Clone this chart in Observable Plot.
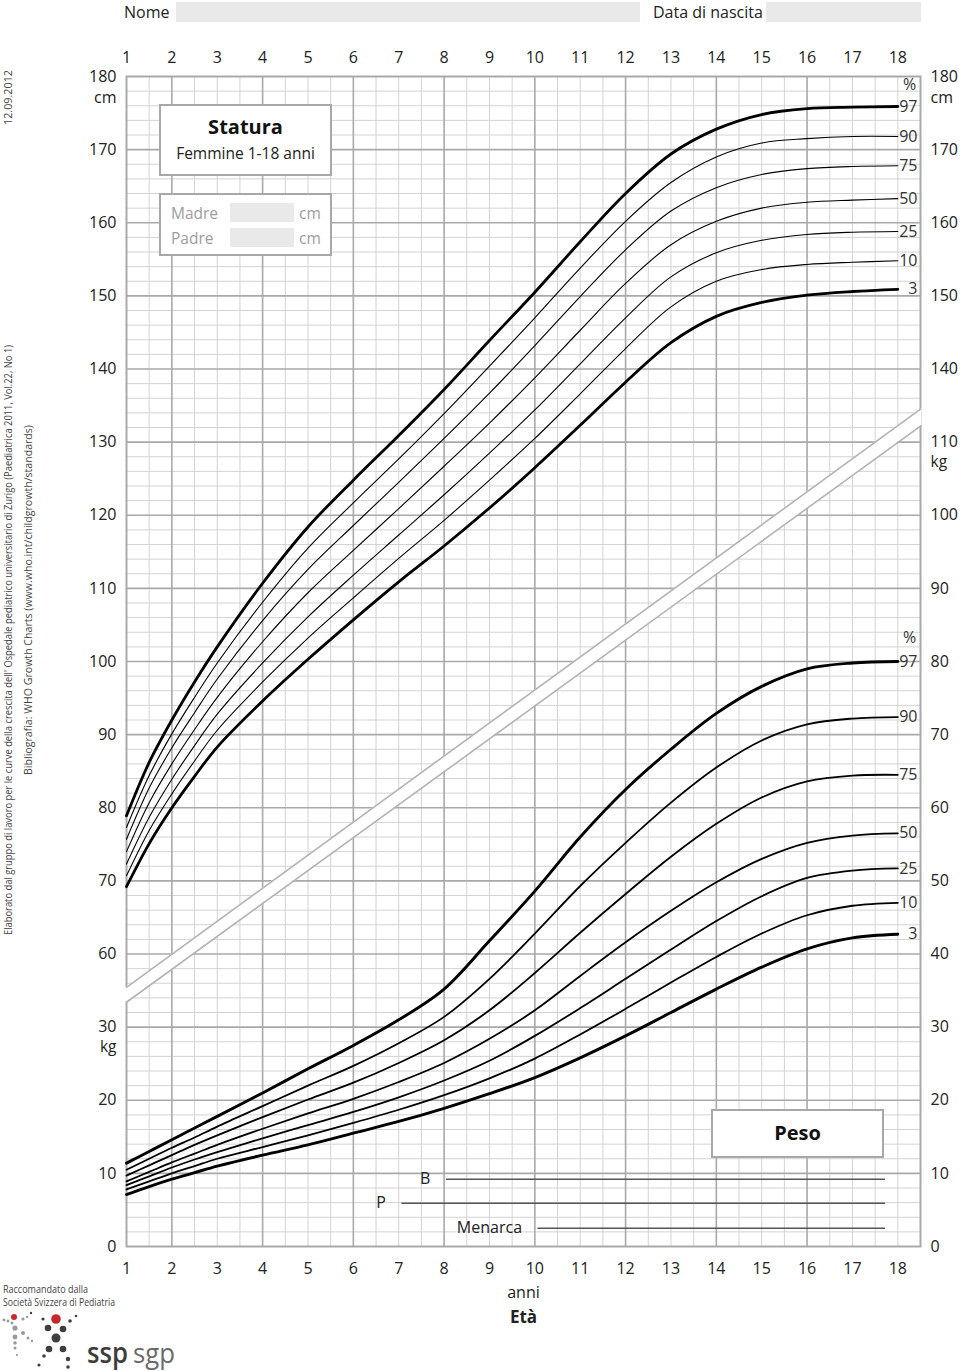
<!DOCTYPE html>
<html><head><meta charset="utf-8">
<script src="https://cdn.jsdelivr.net/npm/d3@7"></script>
<script src="https://cdn.jsdelivr.net/npm/@observablehq/plot@0.6"></script>
<style>
body{margin:0;background:#fff;font-family:"Open Sans",sans-serif;color:#222}
#page{position:relative;width:960px;height:1371px;overflow:hidden;background:#fff}
.abs{position:absolute}
.fld{position:absolute;background:#e9e9e9}
.box{position:absolute;background:#fff;border:2px solid #a8a8a8;box-sizing:border-box}
.t{position:absolute;white-space:nowrap;line-height:1}
</style></head><body><div id="page">
<div id="chart" class="abs" style="left:0;top:0"></div>

<div class="t" style="left:124px;top:4px;font-size:16px;color:#222">Nome</div>
<div class="fld" style="left:176px;top:2px;width:464px;height:20px"></div>
<div class="t" style="left:653px;top:4px;font-size:16px;color:#222">Data di nascita</div>
<div class="fld" style="left:766px;top:2px;width:155px;height:20px"></div>

<div class="box" style="left:159px;top:104px;width:173px;height:72px"></div>
<div class="t" style="left:159px;width:173px;text-align:center;top:117px;font-size:20px;font-weight:700;color:#111">Statura</div>
<div class="t" style="left:159px;width:173px;text-align:center;top:146px;font-size:15.5px;color:#222">Femmine 1-18 anni</div>

<div class="box" style="left:159px;top:193px;width:173px;height:63px"></div>
<div class="t" style="left:171px;top:206px;font-size:15.5px;color:#9d9d9d">Madre</div>
<div class="fld" style="left:230px;top:203px;width:64px;height:19px"></div>
<div class="t" style="left:299px;top:206px;font-size:15.5px;color:#9d9d9d">cm</div>
<div class="t" style="left:171px;top:231px;font-size:15.5px;color:#9d9d9d">Padre</div>
<div class="fld" style="left:230px;top:228px;width:64px;height:19px"></div>
<div class="t" style="left:299px;top:231px;font-size:15.5px;color:#9d9d9d">cm</div>

<div class="box" style="left:711px;top:1109px;width:173px;height:49px"></div>
<div class="t" style="left:711px;width:173px;text-align:center;top:1123px;font-size:20px;font-weight:700;color:#111">Peso</div>

<svg class="abs" style="left:0;top:0" width="960" height="1371">
  <g font-family="Open Sans, sans-serif" fill="#444">
    <text transform="translate(12,125) rotate(-90)" font-size="10" textLength="55" lengthAdjust="spacingAndGlyphs">12.09.2012</text>
    <text transform="translate(12,935) rotate(-90)" font-size="10.5" textLength="590" lengthAdjust="spacingAndGlyphs">Elaborato dal gruppo di lavoro per le curve della crescita dell' Ospedale pediatrico universitario di Zurigo (Paediatrica 2011, Vol.22, No 1)</text>
    <text transform="translate(32,775) rotate(-90)" font-size="10.5" textLength="350" lengthAdjust="spacingAndGlyphs">Bibliografia: WHO Growth Charts (www.who.int/childgrowth/standards)</text>
    <text x="3" y="1293" font-size="11" textLength="85" lengthAdjust="spacingAndGlyphs">Raccomandato dalla</text>
    <text x="3" y="1306" font-size="11" textLength="112" lengthAdjust="spacingAndGlyphs">Società Svizzera di Pediatria</text>
  </g>
  <g>
    <circle cx="14" cy="1317" r="3" fill="#c8282d"/>
    <circle cx="56" cy="1319" r="4.8" fill="#c8282d"/>
    <circle cx="48" cy="1328" r="3.3" fill="#3f3f3f"/>
    <circle cx="63" cy="1329" r="3.3" fill="#3f3f3f"/>
    <circle cx="56" cy="1338" r="4.5" fill="#3f3f3f"/>
    <circle cx="49" cy="1349" r="3.3" fill="#3f3f3f"/>
    <circle cx="63" cy="1349" r="3.3" fill="#3f3f3f"/>
    <circle cx="44" cy="1356" r="1.8" fill="#3f3f3f"/>
    <circle cx="68" cy="1359" r="2.2" fill="#3f3f3f"/>
    <circle cx="39" cy="1365" r="1.6" fill="#3f3f3f"/>
    <circle cx="68" cy="1367" r="1.8" fill="#3f3f3f"/>
    <circle cx="70" cy="1321" r="1.8" fill="#3f3f3f"/>
    <circle cx="76" cy="1316" r="1.3" fill="#3f3f3f"/>
    <circle cx="43" cy="1319" r="1.6" fill="#3f3f3f"/>
    <circle cx="31" cy="1313" r="1.2" fill="#3f3f3f"/>
    <circle cx="15" cy="1328" r="2.6" fill="#9a9a9a"/>
    <circle cx="15" cy="1337" r="2.4" fill="#9a9a9a"/>
    <circle cx="23" cy="1333" r="2" fill="#9a9a9a"/>
    <circle cx="15" cy="1343" r="1.8" fill="#9a9a9a"/>
    <circle cx="15" cy="1348" r="1.5" fill="#9a9a9a"/>
    <circle cx="28" cy="1338" r="1.5" fill="#9a9a9a"/>
    <circle cx="32" cy="1341" r="1.2" fill="#9a9a9a"/>
    <circle cx="4" cy="1320" r="1.4" fill="#9a9a9a"/>
    <circle cx="8" cy="1321" r="1.4" fill="#9a9a9a"/>
    <circle cx="23" cy="1319" r="1.6" fill="#9a9a9a"/>
    <circle cx="27" cy="1317" r="1.2" fill="#9a9a9a"/>
    <circle cx="12" cy="1323" r="1.4" fill="#9a9a9a"/>
    <circle cx="17" cy="1355" r="1.1" fill="#9a9a9a"/>
    <text x="87" y="1363" font-family="Open Sans, sans-serif" font-size="28" font-weight="600" fill="#3d3d3d" textLength="41" lengthAdjust="spacingAndGlyphs">ssp</text>
    <text x="133" y="1363" font-family="Open Sans, sans-serif" font-size="28" fill="#6b6b6b" textLength="42" lengthAdjust="spacingAndGlyphs">sgp</text>
  </g>
</svg>
</div>
<script>
// ---- data ----
const ages = [1, 1.5, 2, 2.5, 3, 4, 5, 6, 7, 8, 9, 10, 11, 12, 13, 14, 15, 16, 17, 18];
const percentiles = ["3", "10", "25", "50", "75", "90", "97"];

// height (cm)
const heightP3  = [69.2, 75.1, 80.0, 84.3, 88.3, 94.6, 100.3, 105.7, 110.9, 115.8, 121.0, 126.5, 132.3, 138.2, 143.6, 147.2, 149.1, 150.1, 150.6, 150.9];
const heightP10 = [70.7, 76.9, 81.9, 86.4, 90.6, 97.2, 103.2, 108.7, 114.1, 119.3, 124.8, 130.5, 136.6, 142.8, 148.5, 152.0, 153.6, 154.3, 154.6, 154.8];
const heightP25 = [72.3, 78.7, 83.9, 88.5, 92.8, 99.8, 106.1, 111.8, 117.3, 122.8, 128.5, 134.4, 140.7, 147.0, 152.6, 155.9, 157.6, 158.4, 158.7, 158.8];
const heightP50 = [74.0, 80.7, 86.0, 90.7, 95.1, 102.7, 109.4, 115.2, 120.9, 126.7, 132.6, 138.8, 145.3, 151.7, 157.0, 160.2, 162.0, 162.8, 163.1, 163.3];
const heightP75 = [75.7, 82.7, 88.2, 93.0, 97.6, 105.6, 112.6, 118.6, 124.5, 130.5, 136.7, 143.2, 149.9, 156.3, 161.6, 164.8, 166.6, 167.4, 167.7, 167.8];
const heightP90 = [77.3, 84.4, 90.1, 95.1, 99.8, 108.1, 115.5, 121.7, 127.7, 133.9, 140.4, 147.0, 153.8, 160.2, 165.5, 169.0, 170.9, 171.5, 171.8, 171.8];
const heightP97 = [78.9, 86.2, 92.0, 97.2, 102.0, 110.7, 118.4, 124.8, 130.9, 137.2, 143.9, 150.5, 157.4, 164.0, 169.4, 172.8, 174.8, 175.6, 175.8, 175.9];

// weight (kg)
const weightP3  = [7.1, 8.2, 9.2, 10.1, 11.0, 12.5, 13.9, 15.5, 17.1, 18.9, 20.9, 23.1, 25.8, 28.8, 32.0, 35.2, 38.2, 40.7, 42.2, 42.7];
const weightP10 = [7.8, 8.9, 10.0, 11.0, 12.0, 13.6, 15.2, 16.9, 18.7, 20.7, 23.0, 25.7, 29.0, 32.5, 36.1, 39.6, 42.8, 45.3, 46.6, 47.0];
const weightP25 = [8.4, 9.6, 10.8, 11.9, 12.9, 14.8, 16.6, 18.4, 20.4, 22.7, 25.4, 28.8, 32.6, 36.6, 40.6, 44.5, 47.9, 50.4, 51.4, 51.7];
const weightP50 = [8.9, 10.2, 11.5, 12.7, 13.9, 16.1, 18.2, 20.2, 22.5, 25.1, 28.4, 32.3, 37.0, 41.6, 45.9, 49.8, 53.0, 55.2, 56.2, 56.5];
const weightP75 = [9.7, 11.1, 12.5, 13.9, 15.2, 17.7, 20.1, 22.4, 25.1, 28.2, 32.3, 37.4, 42.9, 48.2, 53.3, 57.8, 61.4, 63.6, 64.4, 64.5];
const weightP90 = [10.5, 12.0, 13.5, 14.9, 16.4, 19.2, 22.0, 24.7, 27.8, 31.4, 36.6, 42.8, 49.3, 55.2, 60.7, 65.5, 69.2, 71.4, 72.2, 72.4];
const weightP97 = [11.4, 13.0, 14.6, 16.2, 17.8, 21.0, 24.3, 27.5, 31.0, 35.2, 41.8, 48.6, 56.0, 62.5, 68.0, 72.9, 76.6, 79.0, 79.8, 80.0];

// axis ticks & labels
const ageTicks = [1, 2, 3, 4, 5, 6, 7, 8, 9, 10, 11, 12, 13, 14, 15, 16, 17, 18];
const yTicks = [180, 170, 160, 150, 140, 130, 120, 110, 100, 90, 80, 70, 60, 50, 40, 30, 20];
const leftLabels  = ["180", "170", "160", "150", "140", "130", "120", "110", "100", "90", "80", "70", "60", "30", "20", "10", "0"];
const rightLabels = ["180", "170", "160", "150", "140", "110", "100", "90", "80", "70", "60", "50", "40", "30", "20", "10", "0"];

// pubertal stage lines (kg level, ages)
const stageNames = ["B", "P", "Menarca"];
const stageFrom  = [8.05, 7.07, 10.07];
const stageTo    = [17.73, 17.73, 17.73];
const stageKg    = [9.2, 5.9, 2.5];

// axis break band (weight scale shares the axis, shifted by 20)
const weightShift = 20;
const breakAges = [1, 18.5];
const breakLow  = [53.4, 132.2];
const breakHigh = [55.45, 134.5];

// ---- build ----
const hSeries = [heightP3, heightP10, heightP25, heightP50, heightP75, heightP90, heightP97];
const wSeries = [weightP3, weightP10, weightP25, weightP50, weightP75, weightP90, weightP97];
const toLong = (series, shift) => series.flatMap((vals, k) => vals.map((v, i) => ({age: ages[i], p: percentiles[k], v: v + shift})));
const heightData = toLong(hSeries, 0);
const weightData = toLong(wSeries, weightShift);
const isOuter = d => d.p === "3" || d.p === "97";
const hEnd = hSeries.map((vals, k) => ({p: percentiles[k], v: vals[vals.length - 1]}));
const wEnd = wSeries.map((vals, k) => ({p: percentiles[k], v: vals[vals.length - 1] + weightShift}));

const lowAt = d3.scaleLinear(breakAges, breakLow);
const highAt = d3.scaleLinear(breakAges, breakHigh);
const bandEdge = breakAges.map(a => ({age: a, lo: lowAt(a), hi: highAt(a)}));
const bandFill = [0.97, 18.53].map(a => ({age: a, lo: lowAt(a), hi: highAt(a)}));

const halfYears = d3.range(1, 18.51, 0.5);
const majorX = [2, 4, 6, 8, 10, 12, 14, 16];
const minorX = halfYears.filter(a => !majorX.includes(a));
const allY = d3.range(20, 180.1, 2);
const majorY = d3.range(30, 171, 10);
const minorY = allY.filter(v => v % 10 !== 0);

const yTickData = yTicks.map((v, i) => ({v, left: leftLabels[i], right: rightLabels[i]}));
const stages = stageNames.map((n, i) => ({name: n, from: stageFrom[i], to: stageTo[i], y: stageKg[i] + weightShift}));

const minor = "#d3d3d3", major = "#a9a9a9", ink = "#222";
const curve = "catmull-rom";

const chart = Plot.plot({
  width: 960, height: 1371,
  marginLeft: 126, marginRight: 40, marginTop: 76, marginBottom: 125,
  x: {domain: [1, 18.5], axis: null},
  y: {domain: [20, 180], axis: null},
  style: {fontFamily: "Open Sans, sans-serif", fontSize: "16px", color: ink, background: "transparent", overflow: "visible"},
  marks: [
    Plot.ruleX(minorX, {stroke: minor, strokeWidth: 1}),
    Plot.ruleY(minorY, {stroke: minor, strokeWidth: 1}),
    Plot.ruleX(majorX, {stroke: major, strokeWidth: 1.6}),
    Plot.ruleY(majorY, {stroke: major, strokeWidth: 1.6}),
    Plot.frame({stroke: major, strokeWidth: 2}),
    Plot.areaY(bandFill, {x: "age", y1: "lo", y2: "hi", fill: "white"}),
    Plot.line(bandEdge, {x: "age", y: "lo", stroke: "#b3b3b3", strokeWidth: 1.6}),
    Plot.line(bandEdge, {x: "age", y: "hi", stroke: "#b3b3b3", strokeWidth: 1.6}),
    // height curves
    Plot.line(heightData.filter(d => !isOuter(d)), {x: "age", y: "v", z: "p", curve, stroke: "#000", strokeWidth: 1.1}),
    Plot.line(heightData.filter(isOuter), {x: "age", y: "v", z: "p", curve, stroke: "#000", strokeWidth: 2.8}),
    // weight curves
    Plot.line(weightData.filter(d => !isOuter(d)), {x: "age", y: "v", z: "p", curve, stroke: "#000", strokeWidth: 1.8}),
    Plot.line(weightData.filter(isOuter), {x: "age", y: "v", z: "p", curve, stroke: "#000", strokeWidth: 2.9}),
    // percentile labels
    Plot.text(hEnd, {x: () => 18.5, y: "v", text: "p", textAnchor: "end", dx: -3, fontSize: 16, fill: "#333"}),
    Plot.text(wEnd, {x: () => 18.5, y: "v", text: "p", textAnchor: "end", dx: -3, fontSize: 16, fill: "#333"}),
    Plot.text(["%"], {x: () => 18.5, y: () => hEnd[6].v + 2.9, dx: -11, fontSize: 16, fill: "#333"}),
    Plot.text(["%"], {x: () => 18.5, y: () => wEnd[6].v + 3.2, dx: -11, fontSize: 16, fill: "#333"}),
    // age ticks
    Plot.text(ageTicks, {x: d => d, frameAnchor: "top", lineAnchor: "middle", dy: -19, text: d => String(d), fontSize: 16}),
    Plot.text(ageTicks, {x: d => d, frameAnchor: "bottom", lineAnchor: "middle", dy: 22, text: d => String(d), fontSize: 16}),
    // y ticks
    Plot.text(yTickData, {y: "v", frameAnchor: "left", lineAnchor: "middle", dx: -10, textAnchor: "end", text: "left", fontSize: 16}),
    Plot.text(yTickData, {y: "v", frameAnchor: "right", lineAnchor: "middle", dx: 10, textAnchor: "start", text: "right", fontSize: 16}),
    // units
    Plot.text(["cm"], {y: () => 180, frameAnchor: "left", lineAnchor: "middle", dx: -10, dy: 21, textAnchor: "end", fontSize: 16}),
    Plot.text(["kg"], {y: () => 30 + weightShift, frameAnchor: "left", lineAnchor: "middle", dx: -10, dy: 20, textAnchor: "end", fontSize: 15.5}),
    Plot.text(["cm"], {y: () => 180, frameAnchor: "right", lineAnchor: "middle", dx: 10, dy: 21, textAnchor: "start", fontSize: 16}),
    Plot.text(["kg"], {y: () => 110 + weightShift, frameAnchor: "right", lineAnchor: "middle", dx: 10, dy: 20, textAnchor: "start", fontSize: 15.5}),
    // pubertal stages
    Plot.ruleY(stages, {y: "y", x1: "from", x2: "to", stroke: "#555", strokeWidth: 1.5}),
    Plot.text(stages, {x: "from", y: "y", text: "name", textAnchor: "end", dx: -16, fontSize: 16}),
    // x title
    Plot.text(["anni"], {frameAnchor: "bottom", lineAnchor: "middle", dy: 46, fontSize: 16}),
    Plot.text(["Età"], {frameAnchor: "bottom", lineAnchor: "middle", dy: 71, fontSize: 17, fontWeight: "bold"})
  ]
});
document.getElementById("chart").appendChild(chart);
</script>
</body></html>
